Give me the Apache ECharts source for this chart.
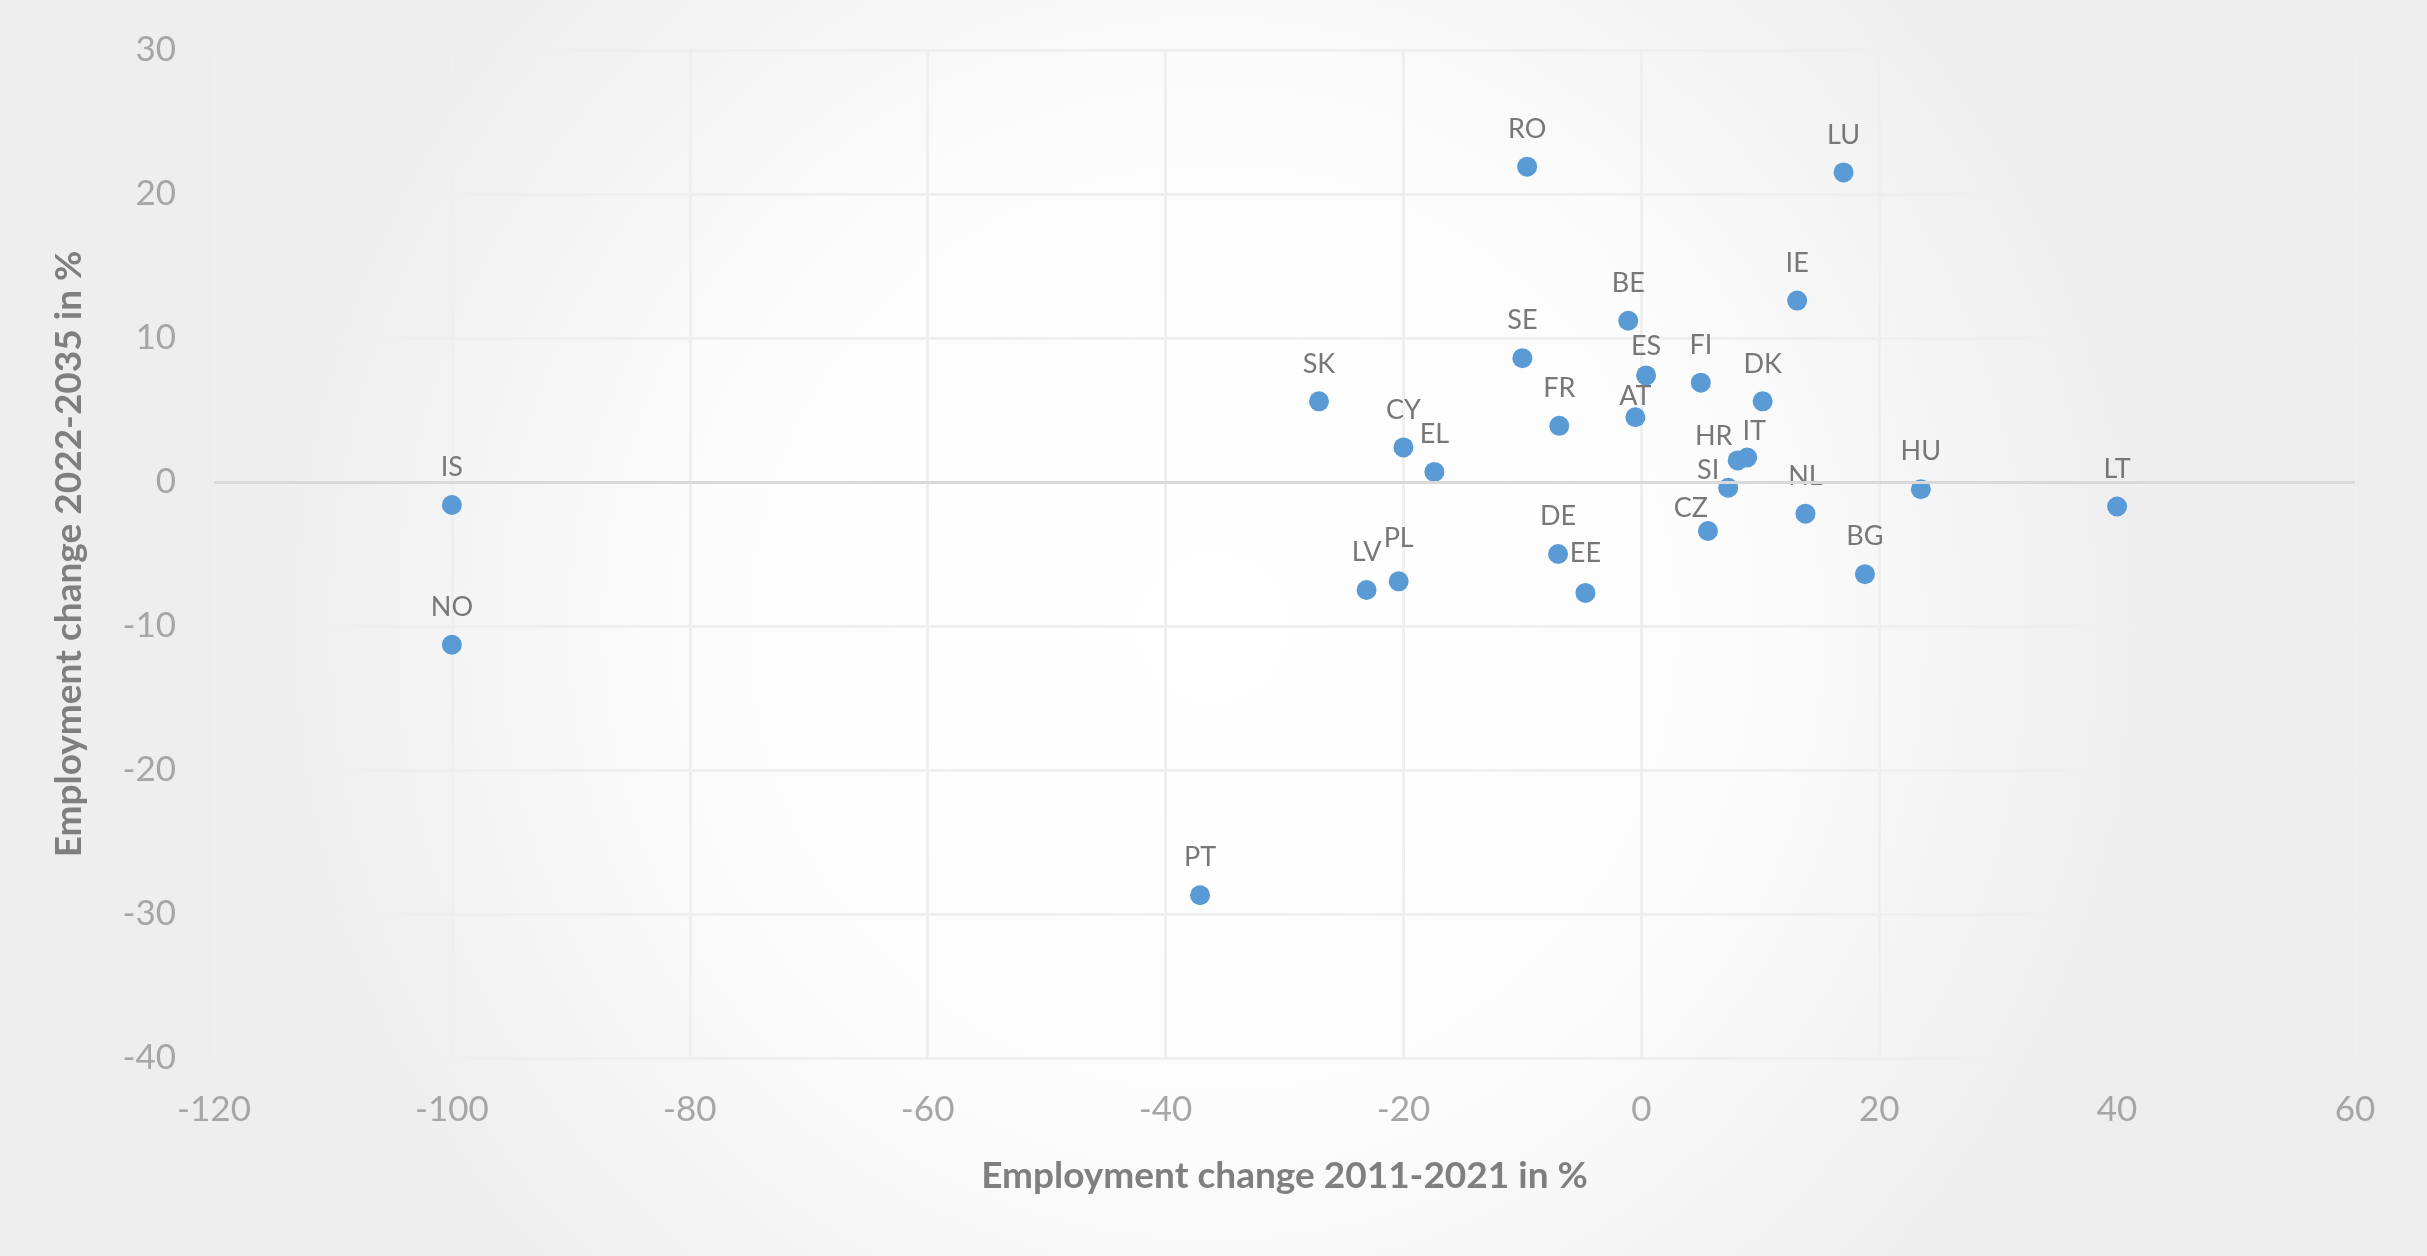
<!DOCTYPE html>
<html>
<head>
<meta charset="utf-8">
<title>Employment change</title>
<script src="https://cdn.jsdelivr.net/npm/echarts@6/dist/echarts.min.js"></script>
<style>
  html, body { margin: 0; padding: 0; }
  #chart { width: 2427px; height: 1256px; }
</style>
</head>
<body>
<div id="chart"></div>
<script>
// country codes and the two employment changes
const countries = ['IS', 'NO', 'PT', 'SK', 'CY', 'EL', 'LV', 'PL', 'RO', 'SE', 'FR', 'DE', 'EE',
  'BE', 'ES', 'AT', 'FI', 'CZ', 'SI', 'HR', 'IT', 'DK', 'NL', 'IE', 'LU', 'BG', 'HU', 'LT']
const change2011 = [-100, -100, -37.1, -27.1, -20.0, -17.4, -23.1, -20.4, -9.6, -10.0, -6.9, -7.0, -4.7,
  -1.1, 0.4, -0.5, 5.0, 5.6, 7.3, 8.1, 8.9, 10.2, 13.8, 13.1, 17.0, 18.8, 23.5, 40.0]
const change2022 = [-1.6, -11.3, -28.7, 5.6, 2.4, 0.7, -7.5, -6.9, 21.9, 8.6, 3.9, -5.0, -7.7,
  11.2, 7.4, 4.5, 6.9, -3.4, -0.4, 1.5, 1.7, 5.6, -2.2, 12.6, 21.5, -6.4, -0.5, -1.7]

const xTicks = { min: -120, max: 60, interval: 20 }
const yTicks = { min: -40, max: 30, interval: 10 }

// labels that were dragged by hand in the original (pixel nudges)
const labelNudge = {
  PL: [0, -6], AT: [0, 17], ES: [0, 8], EE: [0, -2],
  HR: [-24, 13], IT: [7, 11], SI: [-20, 20], CZ: [-17, 15]
}

const points = countries.map((c, i) => {
  const item = { name: c, value: [change2011[i], change2022[i]] }
  if (labelNudge[c]) item.label = { offset: labelNudge[c] }
  return item
})

const chart = echarts.init(document.getElementById('chart'))

const option = {
  backgroundColor: {
    type: 'radial', x: 0.5, y: 0.5, r: 0.75,
    colorStops: [
      { offset: 0, color: '#ffffff' },
      { offset: 0.55, color: '#fcfcfc' },
      { offset: 1, color: '#eeeeee' }
    ]
  },
  textStyle: { fontFamily: 'Lato' },
  grid: { left: 214, right: 72, top: 50, bottom: 198, containLabel: false },
  xAxis: {
    type: 'value',
    min: xTicks.min, max: xTicks.max, interval: xTicks.interval,
    name: 'Employment change 2011-2021 in %',
    nameLocation: 'middle',
    nameGap: 100,
    nameTextStyle: { color: '#7f7f7f', fontSize: 37, fontWeight: 'bold', fontFamily: 'Lato' },
    axisLine: { show: false },
    axisTick: { show: false },
    axisLabel: { color: '#a6a6a6', fontSize: 35, margin: 34, fontFamily: 'Lato' },
    splitLine: { show: true, lineStyle: { color: '#efefef', width: 3 } }
  },
  yAxis: {
    type: 'value',
    min: yTicks.min, max: yTicks.max, interval: yTicks.interval,
    name: 'Employment change 2022-2035 in %',
    nameLocation: 'middle',
    nameGap: 126,
    nameTextStyle: { color: '#7f7f7f', fontSize: 37, fontWeight: 'bold', fontFamily: 'Lato' },
    axisLine: { show: false },
    axisTick: { show: false },
    axisLabel: { color: '#a6a6a6', fontSize: 35, margin: 38, fontFamily: 'Lato' },
    splitLine: { show: true, lineStyle: { color: '#efefef', width: 3 } }
  },
  series: [{
    type: 'scatter',
    data: points,
    symbolSize: 20,
    itemStyle: { color: '#5b9bd5', opacity: 1 },
    label: {
      show: true,
      position: 'top',
      distance: 14,
      formatter: p => p.name,
      color: '#777777',
      fontSize: 27,
      fontFamily: 'Lato'
    },
    markLine: {
      silent: true,
      symbol: 'none',
      label: { show: false },
      lineStyle: { color: '#d9d9d9', width: 3, type: 'solid' },
      data: [{ yAxis: 0 }]
    },
    z: 3
  }]
}

chart.setOption(option)
</script>
</body>
</html>
